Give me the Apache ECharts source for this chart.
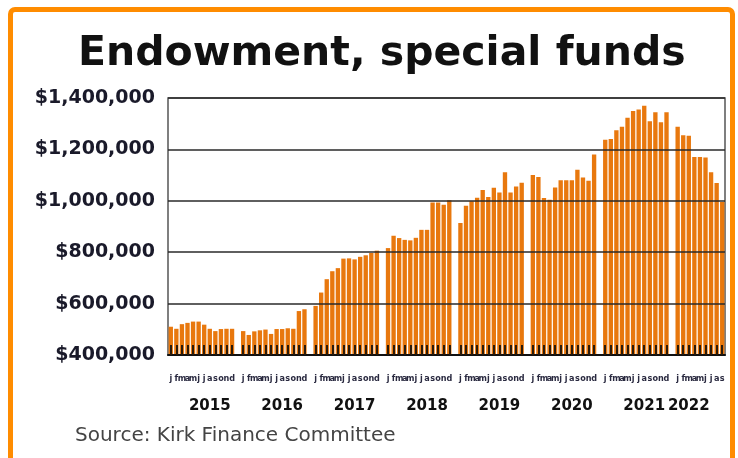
<!DOCTYPE html>
<html><head><meta charset="utf-8">
<script src="https://cdn.jsdelivr.net/npm/echarts@6/dist/echarts.min.js"></script>
<style>
html,body{margin:0;padding:0;background:#fff;}
#c{width:738px;height:458px;position:absolute;left:0;top:0;}
#frame{position:absolute;left:8px;top:7px;width:717px;height:480px;border:5px solid #ff8c00;border-radius:7px;pointer-events:none;}
</style></head><body>
<div id="c"></div><div id="frame"></div>
<script>
const years = ['2015','2016','2017','2018','2019','2020','2021','2022'];
const monthLetters = ['j','f','m','a','m','j','j','a','s','o','n','d'];
const yTicks = [400000, 600000, 800000, 1000000, 1200000, 1400000];
const v2015 = [510000, 502000, 520000, 525000, 530000, 530000, 518000, 502000, 493000, 501000, 502000, 502000];
const v2016 = [493000, 478000, 492000, 496000, 499000, 482000, 501000, 501000, 504000, 502000, 571000, 578000];
const v2017 = [591000, 643000, 695000, 726000, 738000, 775000, 776000, 772000, 782000, 788000, 797000, 806000];
const v2018 = [816000, 864000, 855000, 848000, 846000, 856000, 887000, 887000, 993000, 993000, 985000, 1002000];
const v2019 = [914000, 981000, 998000, 1012000, 1042000, 1015000, 1051000, 1032000, 1111000, 1032000, 1056000, 1070000];
const v2020 = [1100000, 1093000, 1011000, 1004000, 1052000, 1080000, 1080000, 1080000, 1121000, 1091000, 1078000, 1180000];
const v2021 = [1238000, 1240000, 1275000, 1288000, 1323000, 1349000, 1355000, 1370000, 1310000, 1345000, 1306000, 1345000];
const v2022 = [1288000, 1255000, 1253000, 1170000, 1170000, 1168000, 1111000, 1069000, 995000];
const yearData = [v2015, v2016, v2017, v2018, v2019, v2020, v2021, v2022];

const slotLabels = [], slotValues = [], yearAxisLabels = [];
yearData.forEach((vals, yi) => {
  const labelAt = vals.length === 12 ? 7 : 2;
  vals.forEach((v, mi) => {
    slotLabels.push(monthLetters[mi]);
    slotValues.push(v);
    yearAxisLabels.push(mi === labelAt ? years[yi] : '');
  });
  if (yi < yearData.length - 1) { slotLabels.push(''); slotValues.push(null); yearAxisLabels.push(''); }
});

const chart = echarts.init(document.getElementById('c'), null, {renderer:'canvas'});
chart.setOption({
  animation: false,
  title: {text: 'Endowment, special funds', left: 73, top: 29,
    textStyle: {fontFamily: 'DejaVu Sans', fontWeight: 'bold', fontSize: 41, color: '#111'}},
  grid: {left: 168, right: 13, top: 98, bottom: 103, show: true, borderColor: '#555', borderWidth: 1.5},
  xAxis: [{
    type: 'category', data: slotLabels, z: 10,
    axisLine: {lineStyle: {color: '#111', width: 2}},
    axisTick: {show: true, inside: true, length: 10, alignWithLabel: true,
      interval: (idx, val) => val !== '',
      lineStyle: {color: '#2a1a0a', width: 2}},
    axisLabel: {interval: 0, margin: 19, fontSize: 9, fontFamily: 'DejaVu Sans Condensed', fontWeight: 'bold', color: '#2a2a40'}
  }, {
    type: 'category', data: yearAxisLabels, position: 'bottom',
    axisLine: {show: false}, axisTick: {show: false},
    axisLabel: {interval: 0, margin: 44, fontSize: 15, fontWeight: 'bold', fontFamily: 'DejaVu Sans', color: '#111'}
  }],
  yAxis: {
    type: 'value', min: yTicks[0], max: yTicks[yTicks.length - 1], interval: yTicks[1] - yTicks[0], z: 5,
    axisLine: {show: false}, axisTick: {show: false},
    splitLine: {lineStyle: {color: '#2a2a2a', width: 1.5}},
    axisLabel: {margin: 13, fontFamily: 'DejaVu Sans', fontWeight: 'bold', fontSize: 19, color: '#1a1a2a',
      formatter: v => '$' + v.toLocaleString('en-US')}
  },
  series: [{type: 'bar', data: slotValues, itemStyle: {color: '#e8780e'}, barCategoryGap: '22%'}],
  graphic: [{type: 'text', left: 75, top: 426,
    style: {text: 'Source: Kirk Finance Committee', font: '20px "DejaVu Sans"', fill: '#444'}}]
});
</script>
</body></html>
